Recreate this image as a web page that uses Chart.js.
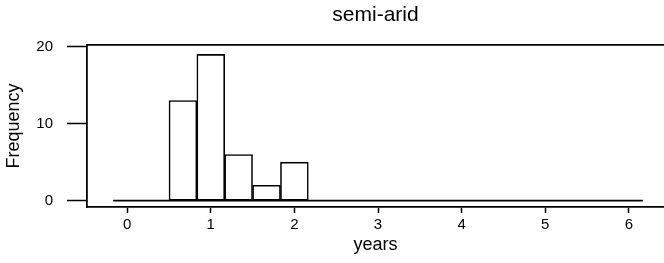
<!DOCTYPE html>
<html lang="en">
<head>
    <meta charset="UTF-8">
    <title>semi-arid</title>
    <script src="https://cdn.jsdelivr.net/npm/chart.js"></script>
    <style>
        html, body { margin: 0; padding: 0; background: #fff; }
        #grafico { width: 664px; height: 263px; }
    </style>
</head>
<body>
    <div id="grafico">
        <canvas id="chartHist" width="664" height="263"></canvas>
    </div>
</body>
</html>
<script>
    // histograma (classes de 1/3 de ano)
    const binCenters = [0, 0.333, 0.667, 1, 1.333, 1.667, 2, 2.333, 2.667, 3, 3.333, 3.667, 4, 4.333, 4.667, 5, 5.333, 5.667, 6]
    const counts = [0, 0, 13, 19, 6, 2, 5, 0, 0, 0, 0, 0, 0, 0, 0, 0, 0, 0, 0]
    const histRange = [-0.167, 6.167]
    const xTicks = [0, 1, 2, 3, 4, 5, 6]
    const yTicks = [0, 10, 20]

    const fonte = "'Liberation Sans', Arial, Helvetica, sans-serif"
    const xMin = -0.48
    const xMax = 6.42

    const barras = []
    for (let i = 0; i < binCenters.length; i++) {
        barras.push({ x: binCenters[i], y: counts[i] })
    }

    const base = []
    for (let i = 0; i < histRange.length; i++) {
        base.push({ x: histRange[i], y: 0 })
    }

    const ctx = document.getElementById('chartHist')

    const chart1 = new Chart(ctx, {
        type: 'bar',
        data: {
            datasets: [{
                type: 'bar',
                data: barras,
                backgroundColor: '#ffffff',
                borderColor: '#000000',
                borderWidth: 1.6,
                borderSkipped: false,
                barPercentage: 1,
                categoryPercentage: 1
            }, {
                type: 'line',
                data: base,
                borderColor: '#000000',
                borderWidth: 1.8,
                pointRadius: 0,
                fill: false
            }]
        },
        options: {
            responsive: false,
            animation: false,
            devicePixelRatio: 1,
            layout: { padding: 0 },
            plugins: {
                legend: { display: false },
                tooltip: { enabled: false }
            },
            scales: {
                x: {
                    type: 'linear',
                    position: 'bottom',
                    min: xMin,
                    max: xMax,
                    offset: false,
                    afterBuildTicks: (s) => { s.ticks = xTicks.map(v => ({ value: v })) },
                    afterFit: (s) => { s.height = 56 },
                    grid: {
                        offset: false,
                        drawOnChartArea: false,
                        drawTicks: true,
                        tickLength: 6,
                        tickWidth: 1.5,
                        color: '#000000'
                    },
                    border: { display: true, color: '#000000', width: 1.8 },
                    ticks: {
                        color: '#000000',
                        padding: 3,
                        maxRotation: 0,
                        font: { family: fonte, size: 15 }
                    },
                    title: {
                        display: true,
                        text: 'years',
                        color: '#000000',
                        padding: { top: 0, bottom: 7 },
                        font: { family: fonte, size: 18 }
                    }
                },
                x2: {
                    type: 'linear',
                    position: 'top',
                    min: xMin,
                    max: xMax,
                    afterFit: (s) => { s.height = 45 },
                    grid: { drawOnChartArea: false, drawTicks: false },
                    border: { display: true, color: '#000000', width: 1.8 },
                    ticks: { display: false },
                    title: {
                        display: true,
                        text: 'semi-arid',
                        color: '#000000',
                        padding: { top: 3, bottom: 0 },
                        font: { family: fonte, size: 21 }
                    }
                },
                y: {
                    type: 'linear',
                    min: -0.82,
                    max: 20.22,
                    afterBuildTicks: (s) => { s.ticks = yTicks.map(v => ({ value: v })) },
                    afterFit: (s) => { s.width = 87 },
                    grid: {
                        drawOnChartArea: false,
                        drawTicks: true,
                        tickLength: 20,
                        tickWidth: 1.5,
                        color: '#000000'
                    },
                    border: { display: true, color: '#000000', width: 1.8 },
                    ticks: {
                        color: '#000000',
                        padding: 14,
                        font: { family: fonte, size: 15 }
                    },
                    title: {
                        display: true,
                        text: 'Frequency',
                        color: '#000000',
                        padding: { top: 3, bottom: 0 },
                        font: { family: fonte, size: 18 }
                    }
                }
            }
        }
    })
</script>
